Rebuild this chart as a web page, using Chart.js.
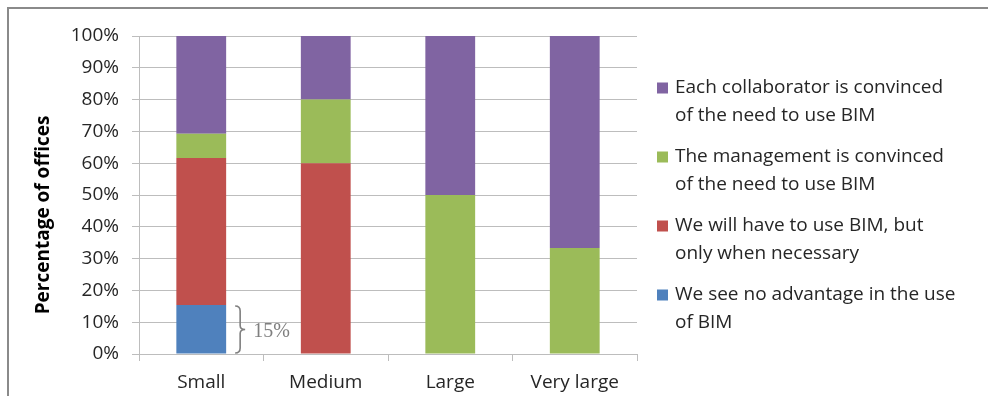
<!DOCTYPE html>
<html>
<head>
<meta charset="utf-8">
<script src="https://cdn.jsdelivr.net/npm/chart.js@4/dist/chart.umd.min.js"></script>
<style>
  html, body { margin: 0; padding: 0; background: #fff; }
  #wrap { position: relative; width: 988px; height: 396px; }
</style>
</head>
<body>
<div id="wrap"><canvas id="chart" width="988" height="396"></canvas></div>
<script>
// Office size categories
const categories = ['Small', 'Medium', 'Large', 'Very large'];

// Share of offices per attitude towards BIM (%), stacked bottom to top
const noAdvantage = [15.4, 0, 0, 0];
const whenNecessary = [46.2, 60, 0, 0];
const managementConvinced = [7.7, 20, 50, 33.3];
const collaboratorConvinced = [30.8, 20, 50, 66.7];

// Legend texts, already split into lines
const labelNoAdvantage = ['We see no advantage in the use', 'of BIM'];
const labelWhenNecessary = ['We will have to use BIM, but', 'only when necessary'];
const labelManagement = ['The management is convinced', 'of the need to use BIM'];
const labelCollaborator = ['Each collaborator is convinced', 'of the need to use BIM'];

const yTicks = [0, 10, 20, 30, 40, 50, 60, 70, 80, 90, 100];
const yTitle = 'Percentage of offices';

const FONT = '"Open Sans", Lato, sans-serif';
const GRID = '#bdbdbd';

// Frame around the chart (top and left edges)
const framePlugin = {
  id: 'frame',
  beforeDraw(chart) {
    const ctx = chart.ctx;
    ctx.save();
    ctx.strokeStyle = '#8a8a8a';
    ctx.lineWidth = 2;
    ctx.beginPath();
    ctx.moveTo(8, 396);
    ctx.lineTo(8, 8);
    ctx.lineTo(988, 8);
    ctx.stroke();
    ctx.restore();
  }
};

// Vertical axis title, sitting a little below the middle of the axis
const axisTitle = {
  id: 'axisTitle',
  afterDraw(chart) {
    const ctx = chart.ctx;
    ctx.save();
    ctx.translate(44, 215);
    ctx.rotate(-Math.PI / 2);
    ctx.font = 'bold 19px ' + FONT;
    ctx.fillStyle = '#000';
    ctx.textAlign = 'center';
    ctx.textBaseline = 'middle';
    ctx.fillText(yTitle, 0, 0);
    ctx.restore();
  }
};

// Multi-line legend on the right, top entry = top of the stack
const sideLegend = {
  id: 'sideLegend',
  afterDraw(chart) {
    const ctx = chart.ctx;
    const items = chart.data.datasets.map((d, i) => ({ d, i })).reverse();
    const x0 = chart.chartArea.right + 20;
    let y = 88;
    ctx.save();
    ctx.font = '19px ' + FONT;
    ctx.textBaseline = 'middle';
    ctx.textAlign = 'left';
    items.forEach(({ d }) => {
      ctx.fillStyle = d.backgroundColor;
      ctx.fillRect(x0, y - 5.5, 11, 11);
      ctx.fillStyle = '#262626';
      d.legendLines.forEach((line, k) => {
        ctx.fillText(line, x0 + 18, y + k * 28);
      });
      y += 69;
    });
    ctx.restore();
  }
};

// Curly brace with the value next to the bottom segment of the first bar
const braceLabel = {
  id: 'braceLabel',
  afterDatasetsDraw(chart) {
    const meta = chart.getDatasetMeta(0);
    const bar = meta.data[0];
    const yScale = chart.scales.y;
    const val = noAdvantage[0];
    const top = yScale.getPixelForValue(val);
    const bot = yScale.getPixelForValue(0);
    const x = bar.x + bar.width / 2 + 14;
    const mid = (top + bot) / 2;
    const ctx = chart.ctx;
    ctx.save();
    ctx.strokeStyle = '#7f7f7f';
    ctx.lineWidth = 1.6;
    ctx.beginPath();
    ctx.moveTo(x - 5, top + 1);
    ctx.quadraticCurveTo(x, top + 1, x, top + 6);
    ctx.lineTo(x, mid - 4);
    ctx.quadraticCurveTo(x, mid, x + 5, mid);
    ctx.quadraticCurveTo(x, mid, x, mid + 4);
    ctx.lineTo(x, bot - 6);
    ctx.quadraticCurveTo(x, bot - 1, x - 5, bot - 1);
    ctx.stroke();
    ctx.fillStyle = '#7f7f7f';
    ctx.font = '20px "Liberation Serif", "DejaVu Serif", serif';
    ctx.textBaseline = 'middle';
    ctx.textAlign = 'left';
    ctx.fillText(Math.round(val) + '%', x + 13, mid + 2);
    ctx.restore();
  }
};

function ds(label, lines, data, color) {
  return {
    label, data, legendLines: lines,
    backgroundColor: color,
    borderWidth: 0,
    categoryPercentage: 1,
    barPercentage: 0.4
  };
}

new Chart(document.getElementById('chart'), {
  type: 'bar',
  data: {
    labels: categories,
    datasets: [
      ds(labelNoAdvantage.join(' '), labelNoAdvantage, noAdvantage, '#4f81bd'),
      ds(labelWhenNecessary.join(' '), labelWhenNecessary, whenNecessary, '#c0504d'),
      ds(labelManagement.join(' '), labelManagement, managementConvinced, '#9bbb59'),
      ds(labelCollaborator.join(' '), labelCollaborator, collaboratorConvinced, '#8064a2')
    ]
  },
  options: {
    responsive: false,
    animation: false,
    layout: { padding: { left: 0, top: 36, right: 351, bottom: 0 } },
    plugins: {
      legend: { display: false },
      tooltip: { enabled: false }
    },
    scales: {
      x: {
        stacked: true,
        offset: true,
        grid: {
          offset: true,
          drawOnChartArea: false,
          drawTicks: true,
          tickLength: 7,
          color: GRID
        },
        border: { color: GRID, width: 1 },
        ticks: {
          color: '#262626',
          font: { family: FONT, size: 19 },
          padding: 10,
          maxRotation: 0
        },
        afterFit(scale) { scale.height = 42; }
      },
      y: {
        stacked: true,
        min: 0,
        max: 100,
        afterBuildTicks(scale) { scale.ticks = yTicks.map(v => ({ value: v })); },
        grid: { color: GRID, tickLength: 7, drawTicks: true },
        border: { color: GRID, width: 1 },
        ticks: {
          color: '#262626',
          font: { family: FONT, size: 19 },
          padding: 13,
          callback: v => v + '%'
        },
        title: { display: false },
        afterFit(scale) { scale.width = 139; }
      }
    }
  },
  plugins: [framePlugin, axisTitle, sideLegend, braceLabel]
});
</script>
</body>
</html>
